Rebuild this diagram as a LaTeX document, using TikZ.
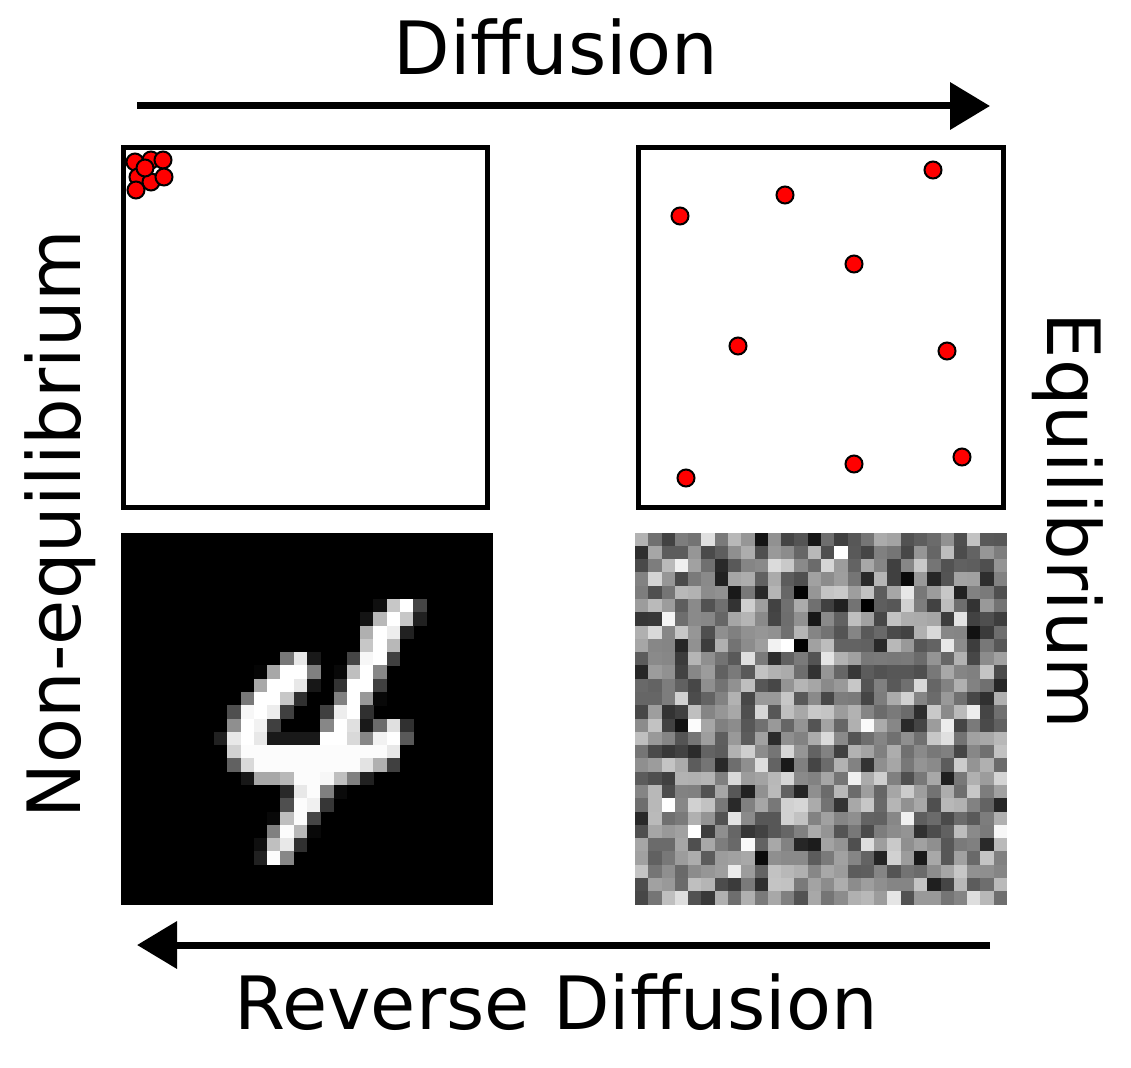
\documentclass[tikz,border=0pt]{standalone}
\usepackage{fontspec}
\setmainfont{DejaVu Sans}
\usetikzlibrary{arrows.meta}
\begin{document}
\begin{tikzpicture}[x=1pt,y=-1pt,
  panel/.style={draw=black, line width=5pt, inner sep=0pt, outer sep=0pt},
  imgbox/.style={fill=black, inner sep=0pt, outer sep=0pt, minimum size=372pt},
  dot/.style={circle, fill=red, draw=black, line width=2pt, minimum size=17pt, inner sep=0pt},
  flow/.style={line width=7pt, -{Triangle[length=40pt,width=46pt]}},
  lbl/.style={font=\fontsize{73.5}{88}\selectfont, inner sep=0pt}]
\useasboundingbox[fill=white] (0,0) rectangle (1131,1067);
\def\pp{13.2857}

% labels
\node[lbl, anchor=base] (tdiff) at (556,75) {Diffusion};
\node[lbl, anchor=base] (trev) at (556,1029) {Reverse Diffusion};
\node[lbl, anchor=base, rotate=90] (tneq) at (80,524) {Non-equilibrium};
\node[lbl, anchor=base, rotate=-90] (teq) at (1047,521) {Equilibrium};

% arrows
\coordinate (d1) at (137,106);
\coordinate (d2) at (990,106);
\coordinate (r1) at (990,945);
\coordinate (r2) at (137,945);
\draw[flow] (d1) -- (d2);
\draw[flow] (r1) -- (r2);

% top panels
\node[panel, minimum width=363.5pt, minimum height=359.5pt] (tl) at (305.25,327.75) {};
\node[panel, minimum width=365pt, minimum height=359.5pt] (tr) at (821,327.75) {};

% clustered dots
\node[dot] (c1) at (135,162) {};
\node[dot] (c2) at (151,160) {};
\node[dot] (c3) at (163,160) {};
\node[dot] (c4) at (138,177) {};
\node[dot] (c5) at (151,182) {};
\node[dot] (c6) at (164,177) {};
\node[dot] (c7) at (136,190) {};
\node[dot] (c8) at (145,168) {};

% spread dots
\node[dot] (s1) at (680,216) {};
\node[dot] (s2) at (785,195) {};
\node[dot] (s3) at (933,170) {};
\node[dot] (s4) at (854,264) {};
\node[dot] (s5) at (738,346) {};
\node[dot] (s6) at (947,351) {};
\node[dot] (s7) at (686,478) {};
\node[dot] (s8) at (854,464) {};
\node[dot] (s9) at (962,457) {};

% digit image
\node[imgbox] (dig) at (307,718.5) {};
\begin{scope}[shift={(dig.north west)}]
\foreach \r/\c/\v in {
5/19/6, 5/20/78, 5/21/100, 5/22/27,
6/18/8, 6/19/72, 6/20/100, 6/21/78, 6/22/13,
7/18/69, 7/19/100, 7/20/93, 7/21/13,
8/18/78, 8/19/100, 8/20/72,
9/12/47, 9/13/91, 9/14/10, 9/17/27, 9/18/97, 9/19/100, 9/20/25,
10/10/2, 10/11/66, 10/12/100, 10/13/100, 10/14/50, 10/16/3, 10/17/75, 10/18/100, 10/19/53,
11/10/66, 11/11/100, 11/12/100, 11/13/91, 11/14/9, 11/16/20, 11/17/100, 11/18/100, 11/19/25,
12/9/47, 12/10/100, 12/11/100, 12/12/78, 12/13/19, 12/16/50, 12/17/100, 12/18/60, 12/19/3,
13/8/31, 13/9/97, 13/10/100, 13/11/93, 13/12/25, 13/15/25, 13/16/93, 13/17/100, 13/18/19,
14/8/56, 14/9/100, 14/10/95, 14/11/25, 14/15/53, 14/16/100, 14/17/88, 14/18/10, 14/19/42, 14/20/88, 14/21/19,
15/7/13, 15/8/91, 15/9/100, 15/10/91, 15/11/10, 15/12/10, 15/13/10, 15/14/10, 15/15/100, 15/16/100, 15/17/85, 15/18/53, 15/19/95, 15/20/100, 15/21/35,
16/8/82, 16/9/99, 16/10/99, 16/11/99, 16/12/99, 16/13/99, 16/14/99, 16/15/99, 16/16/99, 16/17/99, 16/18/99, 16/19/99, 16/20/91,
17/8/38, 17/9/85, 17/10/99, 17/11/99, 17/12/99, 17/13/99, 17/14/99, 17/15/99, 17/16/99, 17/17/99, 17/18/89, 17/19/69, 17/20/25,
18/9/9, 18/10/66, 18/11/66, 18/12/72, 18/13/99, 18/14/99, 18/15/97, 18/16/75, 18/17/50, 18/18/13,
19/12/16, 19/13/91, 19/14/99, 19/15/50, 19/16/4,
20/12/31, 20/13/99, 20/14/94, 20/15/21,
21/11/3, 21/12/75, 21/13/99, 21/14/27,
22/11/50, 22/12/99, 22/13/72, 22/14/3,
23/10/6, 23/11/75, 23/12/91, 23/13/19,
24/10/13, 24/11/99, 24/12/53}
{\fill[white!\v!black] (\c*\pp,\r*\pp) rectangle +(\pp+0.3,\pp+0.3);}
\end{scope}

% noise image
\node[imgbox] (noise) at (821,718.5) {};
\begin{scope}
\clip (noise.north west) rectangle (noise.south east);
\begin{scope}[shift={(noise.north west)}]
\pgfmathsetseed{11}
\foreach \r in {0,...,27}{
  \foreach \c in {0,...,27}{
    \pgfmathtruncatemacro\g{max(0,min(100,52+40*(rnd+rnd+rnd-1.5)))}
    \fill[white!\g!black] (\c*\pp,\r*\pp) rectangle +(\pp+0.4,\pp+0.4);
  }
}
\end{scope}
\end{scope}
\end{tikzpicture}
\end{document}
